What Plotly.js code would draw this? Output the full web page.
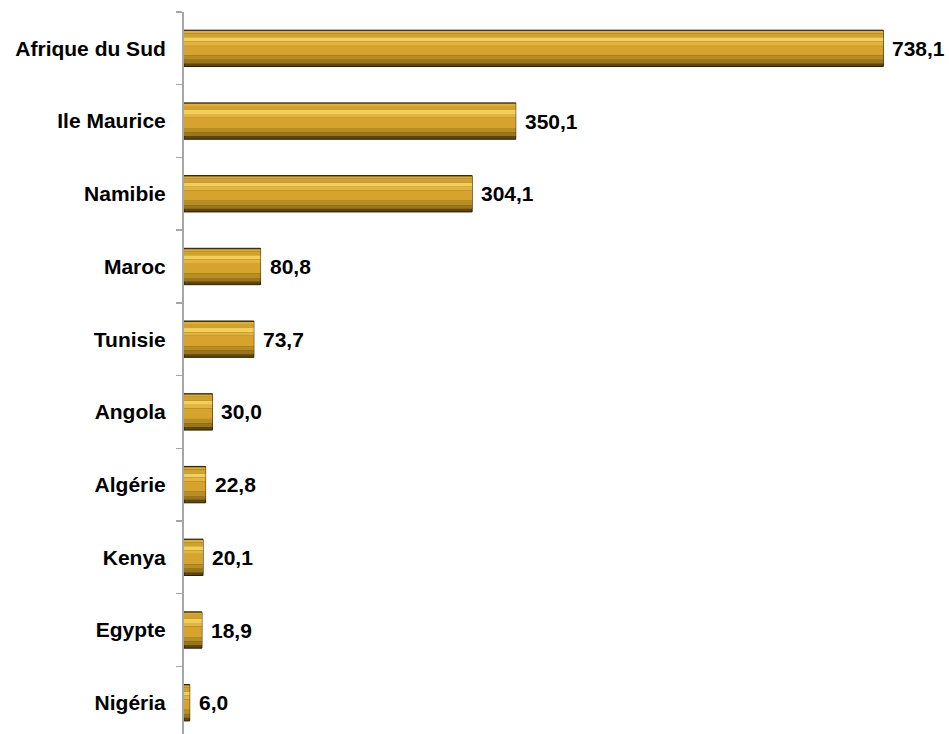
<!DOCTYPE html>
<html>
<head>
<meta charset="utf-8">
<script src="https://cdn.plot.ly/plotly-3.0.1.min.js"></script>
<style>html,body{margin:0;padding:0;background:#fff;}#chart{width:949px;height:734px;}</style>
</head>
<body>
<div id="chart"></div>
<script>
const countries = ["Afrique du Sud","Ile Maurice","Namibie","Maroc","Tunisie","Angola","Algérie","Kenya","Egypte","Nigéria"];
const values = [738.1, 350.1, 304.1, 80.8, 73.7, 30.0, 22.8, 20.1, 18.9, 6.0];
const labels = values.map(v => v.toFixed(1).replace('.', ','));

// bevel bands: [offset, width, color]
const bands = [
  [-0.25, 0.5, '#5E460E'],
  [-0.238, 0.03, '#D9AE3C'],
  [-0.208, 0.055, '#D2A02C'],
  [-0.153, 0.056, '#F2CF58'],
  [-0.097, 0.05, '#E3B540'],
  [-0.047, 0.144, '#D6A32F'],
  [0.097, 0.06, '#B88E24'],
  [0.157, 0.05, '#9A751B']
];

const traces = bands.map((b, i) => ({
  type: 'bar',
  orientation: 'h',
  x: values,
  y: countries,
  offset: b[0],
  width: b[1],
  marker: {color: b[2], line: i === 0 ? {color: '#2a1f04', width: 1} : {width: 0}},
  hoverinfo: 'skip',
  showlegend: false
}));

const annotations = values.map((v, i) => ({
  x: v, y: countries[i], xref: 'x', yref: 'y',
  text: labels[i], showarrow: false, xanchor: 'left', yanchor: 'middle',
  xshift: 7,
  font: {family: 'Liberation Sans, Arial, sans-serif', size: 21, color: '#000', weight: 'bold'}
}));

const layout = {
  width: 949, height: 734,
  margin: {l: 184, r: 7, t: 12, b: 0},
  paper_bgcolor: '#fff', plot_bgcolor: '#fff',
  barmode: 'overlay',
  showlegend: false,
  hovermode: false,
  font: {family: 'Liberation Sans, Arial, sans-serif', color: '#000'},
  xaxis: {range: [0, 800], visible: false, showgrid: false, zeroline: false, fixedrange: true},
  yaxis: {
    type: 'category',
    categoryorder: 'array', categoryarray: countries,
    range: [9.43, -0.5],
    showline: true, linecolor: '#a6a6a6', linewidth: 2,
    ticks: 'outside', tickson: 'boundaries', ticklen: 6, tickcolor: '#a6a6a6', tickwidth: 1.5,
    ticklabelstandoff: 12,
    tickfont: {family: 'Liberation Sans, Arial, sans-serif', size: 21, color: '#000', weight: 'bold'},
    showgrid: false, zeroline: false, fixedrange: true
  },
  annotations: annotations
};

Plotly.newPlot('chart', traces, layout, {displayModeBar: false, staticPlot: true});
</script>
</body>
</html>
